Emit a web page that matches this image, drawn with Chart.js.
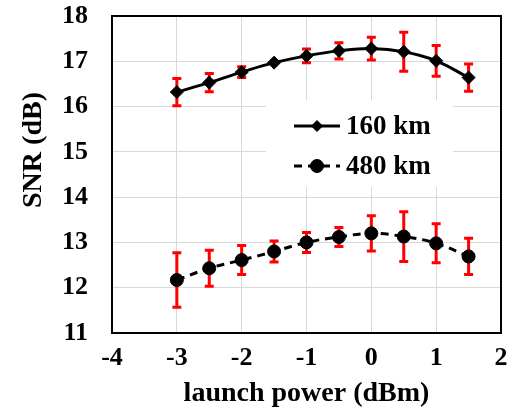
<!DOCTYPE html>
<html>
<head>
<meta charset="utf-8">
<script src="https://cdn.jsdelivr.net/npm/chart.js@4.4.1/dist/chart.umd.min.js"></script>
<style>
  html, body { margin: 0; padding: 0; background: #fff; }
  #wrap { width: 515px; height: 416px; position: relative; }
</style>
</head>
<body>
<div id="wrap"><canvas id="snrChart"></canvas></div>
<script>
// launch power (dBm)
var launchPower = [-3, -2.5, -2, -1.5, -1, -0.5, 0, 0.5, 1, 1.5];
// SNR (dB) and error bar half widths
var snr160 = [16.32, 16.53, 16.76, 16.97, 17.12, 17.23, 17.28, 17.21, 17.01, 16.64];
var err160 = [0.30, 0.20, 0.12, 0.00, 0.15, 0.18, 0.25, 0.43, 0.34, 0.30];
var snr480 = [12.17, 12.43, 12.61, 12.80, 13.00, 13.12, 13.20, 13.13, 12.98, 12.69];
var err480 = [0.60, 0.40, 0.32, 0.23, 0.22, 0.21, 0.39, 0.55, 0.43, 0.40];
var seriesLabels = ['160 km', '480 km'];
var xTicks = [-4, -3, -2, -1, 0, 1, 2];
var yTicks = [11, 12, 13, 14, 15, 16, 17, 18];

var FONT = '"Liberation Serif", "Times New Roman", serif';

function toPoints(xs, ys) {
    return xs.map(function(x, i) { return { x: x, y: ys[i] }; });
}

// red error bars, drawn under the markers
var errorBars = {
    id: 'errorBars',
    beforeDatasetsDraw: function(chart) {
        var ctx = chart.ctx;
        var xs = chart.scales.x, ys = chart.scales.y;
        var errs = [err160, err480];
        ctx.save();
        ctx.strokeStyle = '#ff0000';
        ctx.lineWidth = 3;
        chart.data.datasets.forEach(function(ds, di) {
            ds.data.forEach(function(p, i) {
                var e = errs[di][i];
                if (!e) return;
                var px = xs.getPixelForValue(p.x);
                var top = ys.getPixelForValue(p.y + e);
                var bot = ys.getPixelForValue(p.y - e);
                ctx.beginPath();
                ctx.moveTo(px, top); ctx.lineTo(px, bot);
                ctx.moveTo(px - 4.5, top); ctx.lineTo(px + 4.5, top);
                ctx.moveTo(px - 4.5, bot); ctx.lineTo(px + 4.5, bot);
                ctx.stroke();
            });
        });
        ctx.restore();
    }
};

// frame, y title and the boxed legend
var decorations = {
    id: 'decorations',
    afterDraw: function(chart) {
        var ctx = chart.ctx;
        var a = chart.chartArea;
        ctx.save();
        ctx.strokeStyle = '#000';
        ctx.lineWidth = 2;
        ctx.strokeRect(a.left, a.top, a.right - a.left, a.bottom - a.top);

        // y axis title
        ctx.fillStyle = '#000';
        ctx.font = 'bold 28px ' + FONT;
        ctx.textAlign = 'center';
        ctx.textBaseline = 'middle';
        ctx.translate(34, 150);
        ctx.rotate(-Math.PI / 2);
        ctx.fillText('SNR (dB)', 0, 0);
        ctx.restore();

        // legend
        ctx.save();
        ctx.fillStyle = '#fff';
        ctx.fillRect(266, 100, 187, 87);
        chart.data.datasets.forEach(function(ds, i) {
            var ly = 126 + i * 40;
            ctx.strokeStyle = '#000';
            ctx.fillStyle = '#000';
            ctx.lineWidth = 3;
            ctx.setLineDash(ds.borderDash || []);
            ctx.beginPath();
            ctx.moveTo(294, ly); ctx.lineTo(340, ly);
            ctx.stroke();
            ctx.setLineDash([]);
            ctx.lineWidth = 1;
            Chart.helpers.drawPoint(ctx, {
                pointStyle: ds.pointStyle,
                radius: ds.pointStyle === 'circle' ? 6.5 : 5.5,
                borderWidth: 1
            }, 317, ly);
            ctx.font = 'bold 27px ' + FONT;
            ctx.textAlign = 'left';
            ctx.textBaseline = 'middle';
            ctx.fillText(ds.label, 346, ly + 1);
        });
        ctx.restore();
    }
};

var ctx = document.getElementById('snrChart').getContext('2d');
var snrChart = new Chart(ctx, {
    type: 'scatter',
    data: {
        datasets: [
            {
                label: seriesLabels[0],
                data: toPoints(launchPower, snr160),
                showLine: true,
                borderColor: '#000',
                backgroundColor: '#000',
                borderWidth: 3,
                tension: 0.4,
                pointStyle: 'rectRot',
                pointRadius: 6.5,
                pointBorderWidth: 1
            },
            {
                label: seriesLabels[1],
                data: toPoints(launchPower, snr480),
                showLine: true,
                borderColor: '#000',
                backgroundColor: '#000',
                borderWidth: 3,
                borderDash: [8, 6],
                tension: 0.4,
                pointStyle: 'circle',
                pointRadius: 6.5,
                pointBorderWidth: 1
            }
        ]
    },
    options: {
        responsive: true,
        maintainAspectRatio: false,
        animation: false,
        layout: { padding: { left: 0, right: 14, top: 16, bottom: 0 } },
        scales: {
            x: {
                type: 'linear',
                min: -4,
                max: 2,
                afterBuildTicks: function(scale) {
                    scale.ticks = xTicks.map(function(v) { return { value: v }; });
                },
                grid: { color: '#d9d9d9', lineWidth: 1, drawTicks: false },
                border: { display: false },
                ticks: {
                    color: '#000',
                    padding: 10,
                    font: { family: FONT, size: 26, weight: 'bold' }
                },
                title: {
                    display: true,
                    text: 'launch power (dBm)',
                    color: '#000',
                    padding: { top: 0, bottom: 5 },
                    font: { family: FONT, size: 28, weight: 'bold' }
                },
                afterFit: function(scale) {
                    scale.height = 83;
                    scale.paddingLeft = 0;
                    scale.paddingRight = 0;
                }
            },
            y: {
                type: 'linear',
                min: 11,
                max: 18,
                afterBuildTicks: function(scale) {
                    scale.ticks = yTicks.map(function(v) { return { value: v }; });
                },
                grid: { color: '#d9d9d9', lineWidth: 1, drawTicks: false },
                border: { display: false },
                ticks: {
                    color: '#000',
                    padding: 24,
                    font: { family: FONT, size: 26, weight: 'bold' }
                },
                afterFit: function(scale) {
                    scale.width = 112;
                    scale.paddingTop = 0;
                    scale.paddingBottom = 0;
                }
            }
        },
        plugins: {
            legend: { display: false },
            tooltip: { enabled: false }
        }
    },
    plugins: [errorBars, decorations]
});
</script>
</body>
</html>
